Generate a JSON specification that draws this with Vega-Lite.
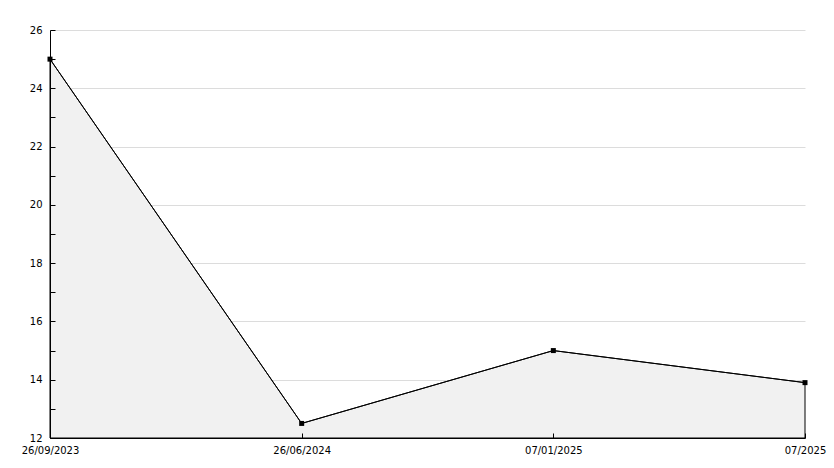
{
  "$schema": "https://vega.github.io/schema/vega-lite/v6.json",
  "width": 755,
  "height": 408,
  "autosize": {"type": "none"},
  "padding": {"left": 50, "top": 30, "right": 29, "bottom": 30},
  "background": "white",
  "config": {
    "view": {"stroke": null},
    "axis": {"labelFont": "DejaVu Sans", "labelFontSize": 10, "labelColor": "black", "domainColor": "black", "tickColor": "black"}
  },
  "data": {"values": [
    {"date": "26/09/2023", "value": 25.0},
    {"date": "26/06/2024", "value": 12.5},
    {"date": "07/01/2025", "value": 15.0},
    {"date": "07/2025", "value": 13.9}
  ]},
  "encoding": {
    "x": {"field": "date", "type": "ordinal", "sort": null,
      "scale": {"type": "point", "padding": 0},
      "axis": {"title": null, "labelAngle": 0, "tickSize": -5, "labelPadding": 12, "grid": false, "zindex": 1}}
  },
  "layer": [
    {
      "mark": {"type": "area", "color": "#f1f1f1", "stroke": "black", "strokeWidth": 1, "line": false},
      "encoding": {
        "y": {"field": "value", "type": "quantitative",
          "scale": {"domain": [12, 26], "nice": false, "zero": false},
          "axis": {"title": null, "values": [14, 16, 18, 20, 22, 24, 26], "grid": true, "gridColor": "#dcdcdc", "labels": false, "ticks": false, "domain": false, "orient": "left", "zindex": 0}},
        "y2": {"datum": 12}
      }
    },
    {
      "mark": {"type": "line", "color": "black", "strokeWidth": 1},
      "encoding": {
        "y": {"field": "value", "type": "quantitative",
          "axis": {"title": null, "values": [12, 14, 16, 18, 20, 22, 24, 26], "grid": false, "tickSize": -5, "labelPadding": 13, "orient": "left", "zindex": 1}}
      }
    },
    {
      "mark": {"type": "square", "color": "black", "opacity": 1, "filled": true, "size": 25},
      "encoding": {
        "y": {"field": "value", "type": "quantitative",
          "axis": {"title": null, "values": [13, 15, 17, 19, 21, 23, 25], "labels": false, "grid": false, "domain": false, "tickSize": -5, "orient": "left", "zindex": 1}}
      }
    }
  ],
  "resolve": {"axis": {"y": "independent"}}
}
